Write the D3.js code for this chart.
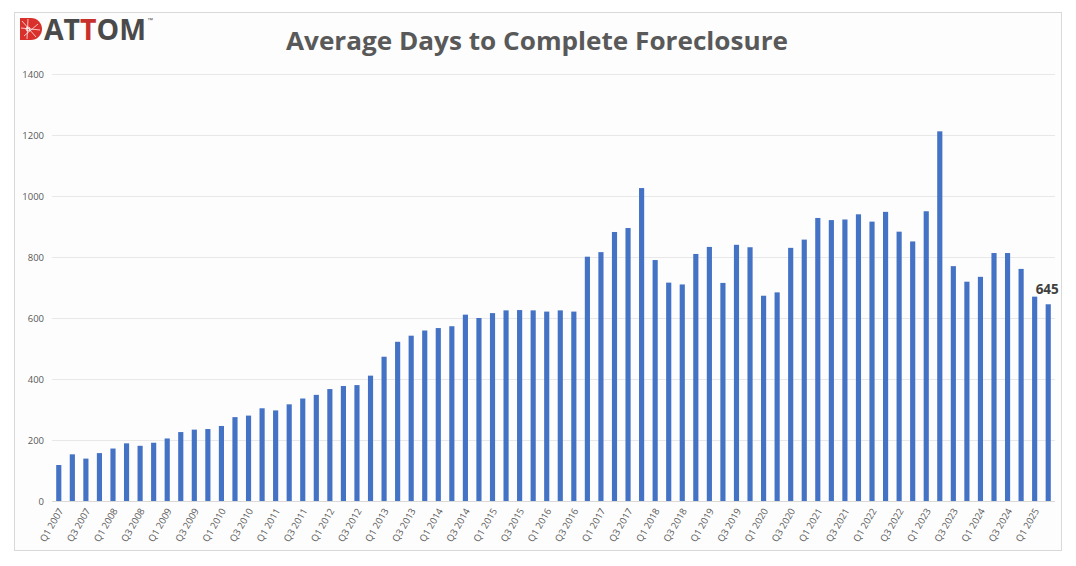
<!DOCTYPE html>
<html>
<head>
<meta charset="utf-8">
<script src="https://cdn.jsdelivr.net/npm/d3@7"></script>
<style>
  html, body { margin: 0; padding: 0; background: #ffffff; }
  svg { display: block; }
</style>
</head>
<body>
<svg id="chart" width="1076" height="566"></svg>
<script>
const title = "Average Days to Complete Foreclosure";
const years = d3.range(2007, 2026);
const quarters = [];
years.forEach(y => [1,2,3,4].forEach(q => { if (!(y === 2025 && q > 2)) quarters.push("Q" + q + " " + y); }));
const days = [
  118, 153, 139, 157, 172, 189, 181, 191,
  205, 226, 234, 236, 246, 275, 280, 304,
  297, 317, 336, 348, 367, 377, 380, 411,
  473, 522, 542, 559, 567, 573, 611, 600,
  616, 625, 626, 625, 621, 625, 621, 801,
  816, 882, 895, 1026, 790, 716, 710, 810,
  833, 715, 840, 832, 673, 684, 830, 857,
  928, 921, 923, 940, 916, 948, 883, 851,
  950, 1212, 770, 719, 735, 813, 813, 761,
  670, 645
];
const yTicks = [0, 200, 400, 600, 800, 1000, 1200, 1400];
const highlightLabel = "645";

const svg = d3.select("#chart");
const font = "'Open Sans', Calibri, sans-serif";

// outer frame
svg.append("rect").attr("x", 14.5).attr("y", 12.5).attr("width", 1047).attr("height", 538)
  .attr("fill", "#fdfdfd").attr("stroke", "#d9d9d9").attr("stroke-width", 1);

const x = d3.scaleBand().domain(quarters).range([52, 1055]).paddingInner(0.62).paddingOuter(0.31);
const y = d3.scaleLinear().domain([0, 1400]).range([501, 74]);

// gridlines
svg.append("g").selectAll("line").data(yTicks).join("line")
  .attr("x1", 52).attr("x2", 1055)
  .attr("y1", d => Math.round(y(d)) + 0.5).attr("y2", d => Math.round(y(d)) + 0.5)
  .attr("stroke", d => d === 0 ? "#d9d9d9" : "#e8e8e8").attr("stroke-width", 1);

// y labels
const yAxis = d3.axisLeft(y).tickValues(yTicks).tickFormat(d3.format("d")).tickSize(0).tickPadding(0);
const gy = svg.append("g").attr("transform", "translate(44,0)").call(yAxis);
gy.select(".domain").remove();
gy.selectAll("text").attr("font-family", font)
  .attr("font-size", 9.5).attr("fill", "#595959");

// bars
svg.append("g").selectAll("rect").data(days).join("rect")
  .attr("x", (d, i) => x(quarters[i]))
  .attr("width", x.bandwidth())
  .attr("y", d => y(d))
  .attr("height", d => y(0) - y(d))
  .attr("fill", "#4472C4");

// x labels (every other quarter)
const xAxis = d3.axisBottom(x).tickValues(quarters.filter((q, i) => i % 2 === 0)).tickSize(0).tickPadding(0);
const gx = svg.append("g").attr("transform", "translate(0,501)").call(xAxis);
gx.select(".domain").remove();
gx.selectAll("text")
  .attr("font-family", font)
  .attr("font-size", 9.5).attr("fill", "#595959")
  .attr("text-anchor", "end")
  .attr("dy", "0.35em")
  .attr("transform", "translate(2,8) rotate(-60)");

// data label
const last = quarters[quarters.length - 1];
svg.append("text")
  .attr("x", x(last) + x.bandwidth() / 2 - 1)
  .attr("y", y(days[days.length - 1]) - 10)
  .attr("text-anchor", "middle")
  .attr("font-family", font)
  .attr("font-weight", "bold").attr("font-size", 13.5).attr("fill", "#404040")
  .text(highlightLabel);

// title
svg.append("text").attr("x", 537).attr("y", 50).attr("text-anchor", "middle")
  .attr("font-family", font).attr("font-weight", "bold")
  .attr("font-size", 25).attr("fill", "#595959")
  .attr("textLength", 502).attr("lengthAdjust", "spacingAndGlyphs")
  .text(title);

// logo
const logo = svg.append("g");
logo.append("path")
  .attr("d", "M20,18 L31,18 A11,11 0 0 1 31,40 L20,40 Z")
  .attr("fill", "#d9302c");
logo.append("path")
  .attr("d", "M22,21 L36,37 M24,36 L38,24 M28,19 L27,39 M21,28 L40,30")
  .attr("stroke", "#ffffff").attr("stroke-width", 0.9).attr("fill", "none").attr("opacity", 0.8);
logo.append("circle").attr("cx", 28).attr("cy", 29).attr("r", 2).attr("fill", "none").attr("stroke", "#fff").attr("stroke-width", 0.9);
const lt = logo.append("text").attr("x", 44).attr("y", 40)
  .attr("font-family", "'Open Sans', Arial, sans-serif").attr("font-weight", "bold")
  .attr("font-size", 29).attr("fill", "#4a4a4a")
  .attr("textLength", 102).attr("lengthAdjust", "spacingAndGlyphs");
lt.append("tspan").text("AT");
lt.append("tspan").attr("fill", "#c8302c").text("T");
lt.append("tspan").text("OM");
logo.append("text").attr("x", 147).attr("y", 22).attr("font-family", "Arial, sans-serif")
  .attr("font-size", 6).attr("fill", "#4a4a4a").text("™");
</script>
</body>
</html>
